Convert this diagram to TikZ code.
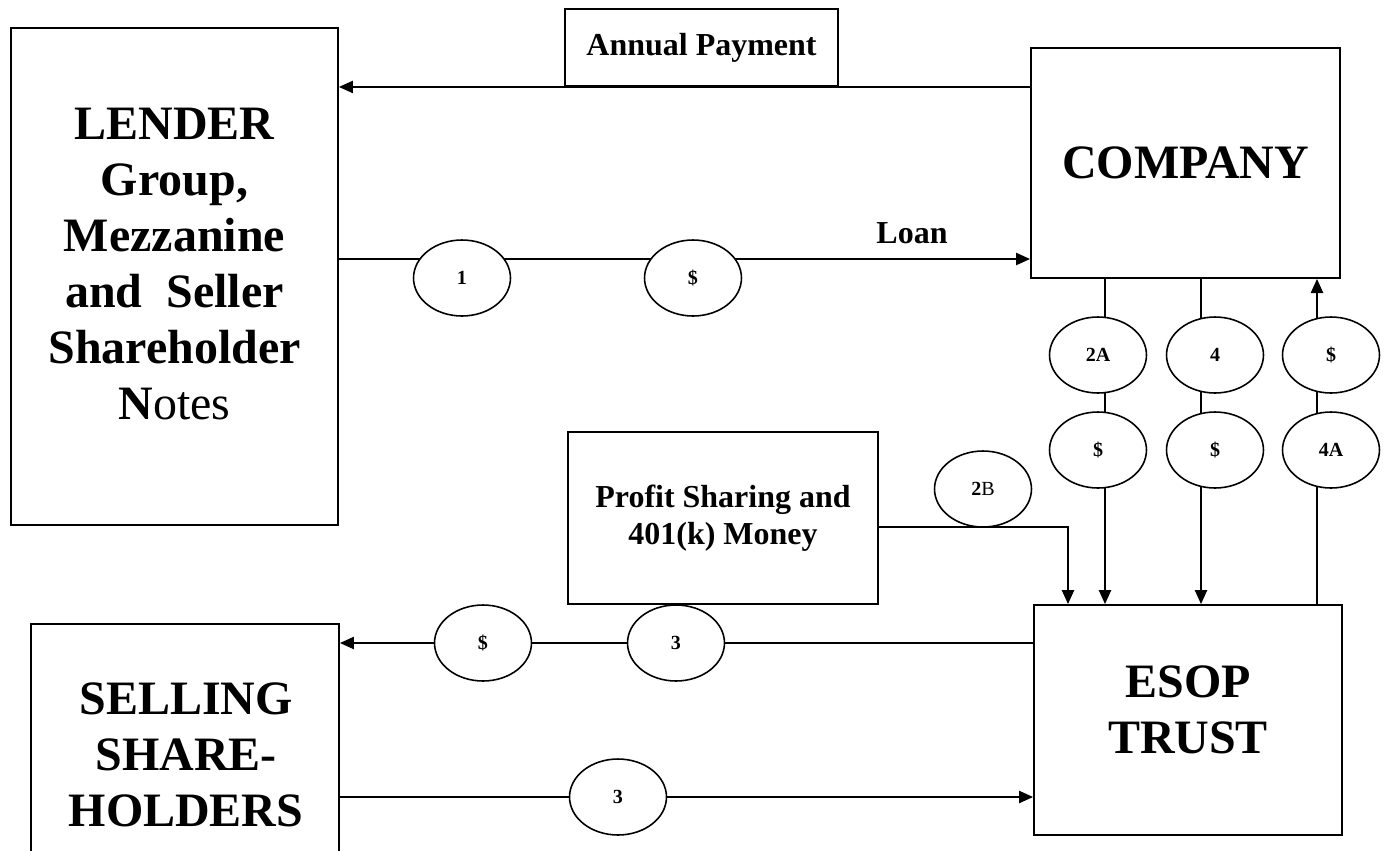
\documentclass[tikz,border=0pt]{standalone}
\usepackage{fontspec}
\setmainfont{Liberation Serif}
\usetikzlibrary{arrows.meta,positioning,calc,shapes.geometric}

\tikzset{
  box/.style={draw,line width=1.1pt,inner sep=0pt},
  bigtxt/.style={align=center,font=\fontsize{27.3pt}{31.9pt}\selectfont\bfseries},
  midtxt/.style={align=center,font=\fontsize{18.2pt}{21pt}\selectfont\bfseries},
  coin/.style={draw,fill=white,ellipse,line width=0.9pt,minimum width=1.94cm,minimum height=1.52cm,inner sep=0pt,font=\fontsize{11.4pt}{13pt}\selectfont\bfseries},
  flow/.style={line width=0.9pt},
  arr/.style={flow,-{Triangle[length=8pt,width=7pt]}}
}

\begin{document}
\begin{tikzpicture}[x=0.02cm,y=-0.02cm]
\useasboundingbox (0,0) rectangle (1384,850);
% boxes
\node[box,minimum width=6.54cm,minimum height=9.94cm] (lender) at (174.5,276.5) {};
\node[bigtxt] (lendertxt) at (174.5,264) {LENDER\\Group,\\Mezzanine\\and\ \ Seller\\Shareholder\\N\textmd{otes}};
\node[box,midtxt,minimum width=5.46cm,minimum height=1.54cm] (annual) at (701.5,47.5) {Annual Payment};
\node[box,bigtxt,minimum width=6.18cm,minimum height=4.6cm] (company) at (1185.5,163) {COMPANY};
\node[box,midtxt,minimum width=6.2cm,minimum height=3.44cm] (profit) at (723,518) {Profit Sharing and\\401(k) Money};
\node[box,minimum width=6.16cm,minimum height=4.6cm] (esop) at (1188,720) {};
\node[bigtxt] (esoptxt) at (1188,710) {ESOP\\TRUST};
\node[box,minimum width=6.16cm,minimum height=5.2cm] (selling) at (185,754) {};
\node[bigtxt] (sellingtxt) at (186,755) {SELLING\\SHARE-\\HOLDERS};
\node[midtxt] (loan) at (912,233) {Loan};

% lender, company
\draw[arr] (company.west |- annual.south) -- (lender.east |- annual.south);
\draw[arr] (lender.east |- 0,259) -- (company.west |- 0,259);
\node[coin] (one) at (462,278) {1};
\node[coin] (loanusd) at (693,278) {\$};

% company, esop
\draw[arr] (company.south -| 1105,0) -- (esop.north -| 1105,0);
\draw[arr] (company.south -| 1201,0) -- (esop.north -| 1201,0);
\draw[arr] (esop.north -| 1317,0) -- (company.south -| 1317,0);
\node[coin] (twoa) at (1098,355) {2A};
\node[coin] (twoausd) at (1098,450) {\$};
\node[coin] (four) at (1215,355) {4};
\node[coin] (fourusd) at (1215,450) {\$};
\node[coin] (backusd) at (1331,355) {\$};
\node[coin] (foura) at (1331,450) {4A};

% profit sharing
\coordinate (bend) at (1068,527);
\draw[arr] (profit.east |- bend) -- (bend) -- (esop.north -| bend);
\node[coin] (twob) at (983,489) {2\textmd{B}};

% esop, selling
\draw[arr] (esop.west |- 0,643) -- (selling.east |- 0,643);
\node[coin] (sellusd) at (483,643) {\$};
\node[coin] (three) at (676,643) {3};
\draw[arr] (selling.east |- 0,797) -- (esop.west |- 0,797);
\node[coin] (threeb) at (618,797) {3};
\end{tikzpicture}
\end{document}
